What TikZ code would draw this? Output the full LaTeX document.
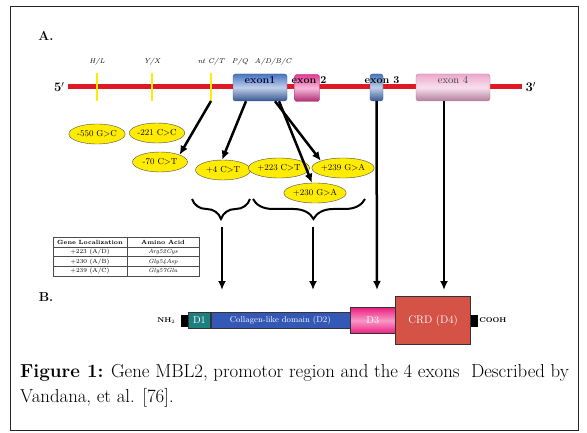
\documentclass[tikz,border=0pt]{standalone}
\usetikzlibrary{arrows.meta,calc,positioning,shapes.geometric,decorations.pathreplacing}

\definecolor{dnared}{RGB}{222,24,36}
\definecolor{snpyellow}{RGB}{255,236,0}
\definecolor{exblue}{RGB}{72,118,192}
\definecolor{expink}{RGB}{230,58,150}
\definecolor{exlight}{RGB}{236,168,204}
\definecolor{dteal}{RGB}{30,128,126}
\definecolor{dblue}{RGB}{52,88,182}
\definecolor{dmag}{RGB}{236,30,128}
\definecolor{crdred}{RGB}{212,82,70}

\tikzset{
  snp/.style={ellipse,draw=black!70,fill=snpyellow,minimum width=55pt,minimum height=20pt,
    inner sep=0pt,font=\fontsize{8.7}{8.7}\selectfont},
  exon/.style={rectangle,rounded corners=2.5pt,minimum height=27pt,inner sep=0pt,
    draw=#1!75!black,top color=#1,bottom color=#1!75!black,middle color=#1!35!white},
  exlabel/.style={font=\fontsize{10.5}{10.5}\selectfont\bfseries,inner sep=0pt},
  site/.style={font=\fontsize{7}{7}\selectfont\itshape,inner sep=0pt},
  conn/.style={-{Latex[length=9pt,width=8pt]},line width=2.5pt},
  dom/.style={rectangle,draw=black!80,inner sep=0pt,text=white},
  stub/.style={rectangle,fill=black,minimum width=7pt,minimum height=12pt,inner sep=0pt},
  tabtxt/.style={font=\fontsize{6}{6}\selectfont,inner sep=0pt}
}

\begin{document}
\begin{tikzpicture}[x=1pt,y=-1pt]
  \useasboundingbox (0,0) rectangle (587,433);
  \draw[black!85,line width=1pt] (10,7) rectangle (578,430);
  \node[font=\fontsize{13}{13}\selectfont\bfseries] at (46,36) {A.};
  \node[font=\fontsize{13}{13}\selectfont\bfseries] at (46,297) {B.};

  % gene
  \node[font=\fontsize{13}{13}\selectfont\bfseries,anchor=east] (five) at (68,87) {5$'$};
  \node[font=\fontsize{13}{13}\selectfont\bfseries,anchor=west] (three) at (522,87) {3$'$};
  \draw[dnared,line width=5pt] (five.east) -- (three.west);
  \foreach \x/\lab/\nm in {97/H\slash L/hl,152/Y\slash X/yx,211/nt C\slash T/nt}{
    \draw[snpyellow,line width=2.5pt] (\x,73) -- (\x,101) coordinate (\nm);
    \node[site] at (\x,62) {\lab};
  }
  \node[site] at (240,62) {P\slash Q};
  \node[site] at (273,62) {A\slash D\slash B\slash C};

  \node[exon=exblue,minimum width=54pt] (ex1) at (260,87.5) {};
  \node[exon=expink,minimum width=25pt] (ex2) at (307,88) {};
  \node[exon=exblue,minimum width=13pt] (ex3) at (376.5,87.5) {};
  \node[exon=exlight,minimum width=74pt] (ex4) at (453,87.5) {};
  \node[exlabel,text=black!75!blue] at (260,80) {exon1};
  \node[exlabel] at (309,80) {exon 2};
  \node[exlabel] at (382,80) {exon 3};
  \node[exlabel,font=\fontsize{10.5}{10.5}\selectfont,text=black!75] at (453,80) {exon 4};

  % polymorphisms
  \node[snp] (m550) at (97,134) {-550 G\textgreater C};
  \node[snp] (m221) at (157,133) {-221 C\textgreater C};
  \node[snp] (m70) at (160,162) {-70 C\textgreater T};
  \node[snp] (p4) at (223,170) {+4 C\textgreater T};
  \node[snp] (p223) at (279,168) {+223 C\textgreater T};
  \node[snp] (p239) at (343,168) {+239 G\textgreater A};
  \node[snp] (p230) at (315,193) {+230 G\textgreater A};

  \draw[conn] (nt) -- (m70.north east);
  \draw[conn] ([xshift=-14pt]ex1.south) -- ([xshift=-1pt]p4.north);
  \draw[conn] ([xshift=15pt]ex1.south) -- (p239.north west);
  \draw[conn] ([xshift=19pt]ex1.south) -- ([xshift=-3pt]p230.north);

  \draw[line width=2pt,decorate,decoration={brace,mirror,amplitude=20pt}] (192,199) -- (250,199);
  \draw[line width=2pt,decorate,decoration={brace,mirror,amplitude=20pt,aspect=0.54}] (253,199) -- (365,199);

  \coordinate (b1) at (222,227);
  \coordinate (b2) at (313,227);
  \coordinate (t1) at (222,290);
  \coordinate (t2) at (313,290);
  \coordinate (t3) at (377,290);
  \coordinate (t4) at (444,290);
  \draw[conn] (b1) -- (t1);
  \draw[conn] (b2) -- (t2);
  \draw[conn] (ex3.south) -- (t3);
  \draw[conn] ([xshift=-9pt]ex4.south) -- (t4);

  % table
  \draw[black!70,line width=0.4pt] (53,237) rectangle (199,276);
  \foreach \y in {247,256.5,266}
    \draw[black!70,line width=0.4pt] (53,\y) -- (199,\y);
  \draw[black!70,line width=0.4pt] (127,237) -- (127,276);
  \node[tabtxt,font=\fontsize{6}{6}\selectfont\bfseries] at (90,242) {Gene Localization};
  \node[tabtxt,font=\fontsize{6}{6}\selectfont\bfseries] at (163,242) {Amino Acid};
  \foreach \y/\pos/\aa in {252/+223 (A\slash D)/Arg52Cys,261.5/+230 (A\slash B)/Gly54Asp,271/+239 (A\slash C)/Gly57Glu}{
    \node[tabtxt] at (90,\y) {\pos};
    \node[tabtxt,font=\fontsize{6}{6}\selectfont\itshape] at (163,\y) {\aa};
  }

  % protein
  \node[stub] (nstub) at (184.5,320.5) {};
  \node[dom,fill=dteal,minimum width=22pt,minimum height=16pt,font=\fontsize{10}{10}\selectfont,
    right=0pt of nstub] (d1) {D1};
  \node[dom,fill=dblue,minimum width=139pt,minimum height=16pt,font=\fontsize{8.5}{8.5}\selectfont,
    right=0pt of d1] (d2) {Collagen-like domain (D2)};
  \node[dom,top color=dmag,bottom color=dmag,middle color=dmag!45!white,minimum width=45pt,minimum height=26pt,
    font=\fontsize{10}{10}\selectfont,right=0pt of d2] (d3) {D3};
  \node[dom,fill=crdred,minimum width=75pt,minimum height=48pt,font=\fontsize{11}{11}\selectfont,
    right=0pt of d3] (d4) {CRD (D4)};
  \node[stub,right=0pt of d4] (cstub) {};
  \node[font=\fontsize{7}{7}\selectfont\bfseries,left=2pt of nstub] (nh) {NH$_2$};
  \node[font=\fontsize{7}{7}\selectfont\bfseries,right=1pt of cstub,inner sep=0pt] (cooh) {COOH};

  % caption
  \node[anchor=west,inner sep=0pt,font=\fontsize{18.8}{18.8}\selectfont] (cap1) at (20,373)
    {\textbf{Figure 1:} Gene MBL2, promotor region and the 4 exons\ \ Described by};
  \node[anchor=west,inner sep=0pt,font=\fontsize{18.8}{18.8}\selectfont] (cap2) at (20,398)
    {Vandana, et al. [76].};
\end{tikzpicture}
\end{document}
